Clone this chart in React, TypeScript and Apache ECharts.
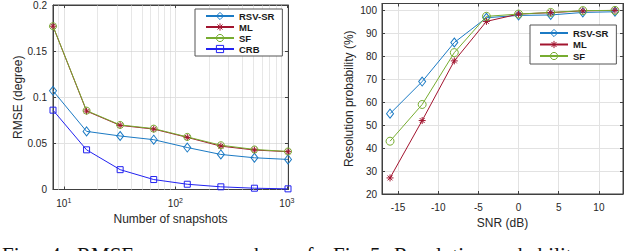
import React, { useEffect, useRef } from "react";
import * as echarts from "echarts";

const snapshots = [8, 16, 32, 64, 128, 256, 512, 1024];
const rmseRSVSR = [0.107, 0.063, 0.058, 0.054, 0.0455, 0.038, 0.0344, 0.0326];
const rmseML = [0.177, 0.085, 0.0695, 0.0655, 0.0565, 0.047, 0.0428, 0.041];
const rmseSF = [0.177, 0.0855, 0.07, 0.066, 0.057, 0.048, 0.0434, 0.0412];
const rmseCRB = [0.086, 0.043, 0.0215, 0.0108, 0.0057, 0.0029, 0.0014, 0.0007];
const minorSnapshots = [9, 20, 30, 40, 50, 60, 70, 80, 90, 200, 300, 400, 500, 600, 700, 800, 900];

const snr = [-16, -12, -8, -4, 0, 4, 8, 12];
const probRSVSR = [55, 69, 86, 96.8, 97.8, 98, 99.1, 99.4];
const probML = [27, 52, 78, 95.2, 98.4, 99, 99.8, 100];
const probSF = [43, 59, 81.6, 97.4, 98.4, 99.1, 99.9, 100];

const leftLegend = ["RSV-SR", "ML", "SF", "CRB"];
const rightLegend = ["RSV-SR", "ML", "SF"];

const captionLeft = [
  { w: "Fig.", x: 2 },
  { w: "4:", x: 50 },
  { w: "RMSE", x: 77 },
  { w: "versus", x: 148 },
  { w: "number", x: 217 },
  { w: "of", x: 296 },
];
const captionRight = [
  { w: "Fig.", x: 333 },
  { w: "5:", x: 370 },
  { w: "Resolution", x: 394 },
  { w: "probability", x: 490 },
  { w: "versus", x: 594 },
];

const C_RSV = "#1b7ac4";
const C_ML = "#a2142f";
const C_SF = "#77ac30";
const C_CRB = "#2222f0";
const FONT = "Liberation Sans, Arial, Helvetica, sans-serif";
const AXIS = "#404040";
const GRID = "#e2e2e2";
const ASTERISK = "path://M0,-1L0,1M-1,0L1,0M-0.7,-0.7L0.7,0.7M-0.7,0.7L0.7,-0.7";
const CLEAR = "rgba(255,255,255,0)";

function zip(xs: number[], ys: number[]) {
  return xs.map((x, i) => [x, ys[i]]);
}

function mkSeries(name: string, xi: number, yi: number, data: number[][], color: string, symbol: string, size: any, extra: any = {}) {
  return {
    type: "line",
    name,
    xAxisIndex: xi,
    yAxisIndex: yi,
    data,
    color,
    symbol,
    symbolSize: size,
    showAllSymbol: true,
    lineStyle: { color, width: 1 },
    itemStyle: { color: CLEAR, borderColor: color, borderWidth: 1 },
    z: 3,
    ...extra,
  };
}

export default function App() {
  const ref = useRef<HTMLDivElement>(null);
  useEffect(() => {
    if (!ref.current) return;
    const chart = echarts.init(ref.current, undefined, { renderer: "svg" });
    const tickLabel = { color: "#262626", fontSize: 10, fontFamily: FONT };
    const nameStyle = { color: "#262626", fontSize: 12, fontFamily: FONT };
    const baseTick = { inside: true, length: 3, lineStyle: { color: AXIS } };
    const axisLine = { show: true, onZero: false, lineStyle: { color: AXIS, width: 1 } };

    const legendBase = {
      orient: "vertical",
      itemWidth: 28,
      itemHeight: 9,
      itemGap: 1,
      padding: [2, 8, 2, 10],
      borderColor: "#555",
      borderWidth: 1,
      backgroundColor: "#fff",
      itemStyle: { color: CLEAR, borderWidth: 1 },
      textStyle: { color: "#1a1a1a", fontSize: 9.5, fontWeight: "bold", fontFamily: FONT },
      selectedMode: false,
    };

    const option: any = {
      animation: false,
      backgroundColor: "#fff",
      grid: [
        { left: 53, top: 4, width: 235, height: 185.5, show: true, borderColor: AXIS, borderWidth: 1, backgroundColor: "transparent" },
        { left: 382, top: 3.5, width: 241, height: 190.5, show: true, borderColor: AXIS, borderWidth: 1, backgroundColor: "transparent" },
      ],
      xAxis: [
        {
          type: "log",
          gridIndex: 0,
          min: 8,
          max: 1024,
          position: "bottom",
          axisLine,
          axisTick: baseTick,
          splitLine: { show: true, lineStyle: { color: GRID } },
          axisLabel: {
            ...tickLabel,
            margin: 7,
            formatter: (v: number) => {
              const e = Math.round(Math.log10(v));
              if (Math.abs(Math.pow(10, e) - v) < 1e-6) return `{b|10}{s|${e}}`;
              return "";
            },
            rich: {
              b: { fontSize: 10, fontFamily: FONT, color: "#262626" },
              s: { fontSize: 7, fontFamily: FONT, color: "#262626", padding: [0, 0, 7, 0] },
            },
          },
          name: "Number of snapshots",
          nameLocation: "middle",
          nameGap: 20,
          nameTextStyle: nameStyle,
        },
        {
          type: "value",
          gridIndex: 1,
          min: -17,
          max: 13,
          position: "bottom",
          axisLine,
          axisTick: baseTick,
          splitLine: { show: true, lineStyle: { color: GRID } },
          axisLabel: { ...tickLabel, margin: 8, formatter: (v: number) => (v % 5 === 0 ? String(v) : "") },
          name: "SNR (dB)",
          nameLocation: "middle",
          nameGap: 19,
          nameTextStyle: nameStyle,
        },
        {
          type: "log",
          gridIndex: 0,
          min: 8,
          max: 1024,
          position: "top",
          axisLine,
          axisTick: baseTick,
          splitLine: { show: false },
          axisLabel: { show: false },
        },
        {
          type: "value",
          gridIndex: 1,
          min: -17,
          max: 13,
          position: "top",
          axisLine,
          axisTick: baseTick,
          splitLine: { show: false },
          axisLabel: { show: false },
        },
      ],
      yAxis: [
        {
          type: "value",
          gridIndex: 0,
          min: 0,
          max: 0.2,
          interval: 0.05,
          axisLine,
          axisTick: baseTick,
          splitLine: { show: true, lineStyle: { color: GRID } },
          axisLabel: { ...tickLabel, margin: 6 },
          name: "RMSE (degree)",
          nameLocation: "middle",
          nameGap: 27,
          nameTextStyle: nameStyle,
        },
        {
          type: "value",
          gridIndex: 1,
          min: 20,
          max: 103,
          interval: 10,
          axisLine,
          axisTick: baseTick,
          splitLine: { show: true, lineStyle: { color: GRID } },
          axisLabel: { ...tickLabel, margin: 5, formatter: (v: number) => (v <= 100 && v % 10 === 0 ? String(v) : "") },
          name: "Resolution probability (%)",
          nameLocation: "middle",
          nameGap: 27,
          nameTextStyle: nameStyle,
        },
        {
          type: "value",
          gridIndex: 0,
          min: 0,
          max: 0.2,
          interval: 0.05,
          position: "right",
          axisLine,
          axisTick: baseTick,
          splitLine: { show: false },
          axisLabel: { show: false },
        },
        {
          type: "value",
          gridIndex: 1,
          min: 20,
          max: 103,
          interval: 10,
          position: "right",
          axisLine,
          axisTick: baseTick,
          splitLine: { show: false },
          axisLabel: { show: false },
        },
      ],
      legend: [
        { ...legendBase, data: leftLegend, left: 195, top: 9 },
        { ...legendBase, data: rightLegend, left: 530, top: 25, itemGap: 1.5, padding: [3, 8, 3, 9] },
      ],
      series: [
        mkSeries("RSV-SR", 0, 0, zip(snapshots, rmseRSVSR), C_RSV, "diamond", [7, 9], {
          markLine: {
            silent: true,
            symbol: "none",
            z: 1,
            label: { show: false },
            lineStyle: { color: "#cfcfcf", type: "dotted", width: 1 },
            data: minorSnapshots.map((v) => ({ xAxis: v })),
          },
        }),
        mkSeries("ML", 0, 0, zip(snapshots, rmseML), C_ML, ASTERISK, 7),
        mkSeries("SF", 0, 0, zip(snapshots, rmseSF), C_SF, "circle", 7),
        mkSeries("CRB", 0, 0, zip(snapshots, rmseCRB), C_CRB, "rect", 6),
        mkSeries("RSV-SR", 1, 1, zip(snr, probRSVSR), C_RSV, "diamond", [7, 9]),
        mkSeries("ML", 1, 1, zip(snr, probML), C_ML, ASTERISK, 7),
        mkSeries("SF", 1, 1, zip(snr, probSF), C_SF, "circle", 8),
      ],
      graphic: [...captionLeft, ...captionRight].map((c) => ({
        type: "text",
        x: c.x,
        y: 255,
        style: {
          text: c.w,
          fontFamily: "Liberation Serif, Times New Roman, serif",
          fontSize: 21,
          fill: "#111",
          verticalAlign: "middle",
          align: "left",
        },
      })),
    };
    chart.setOption(option);
    return () => chart.dispose();
  }, []);
  return <div ref={ref} style={{ position: "fixed", left: 0, top: 0, width: 640, height: 251 }} />;
}
